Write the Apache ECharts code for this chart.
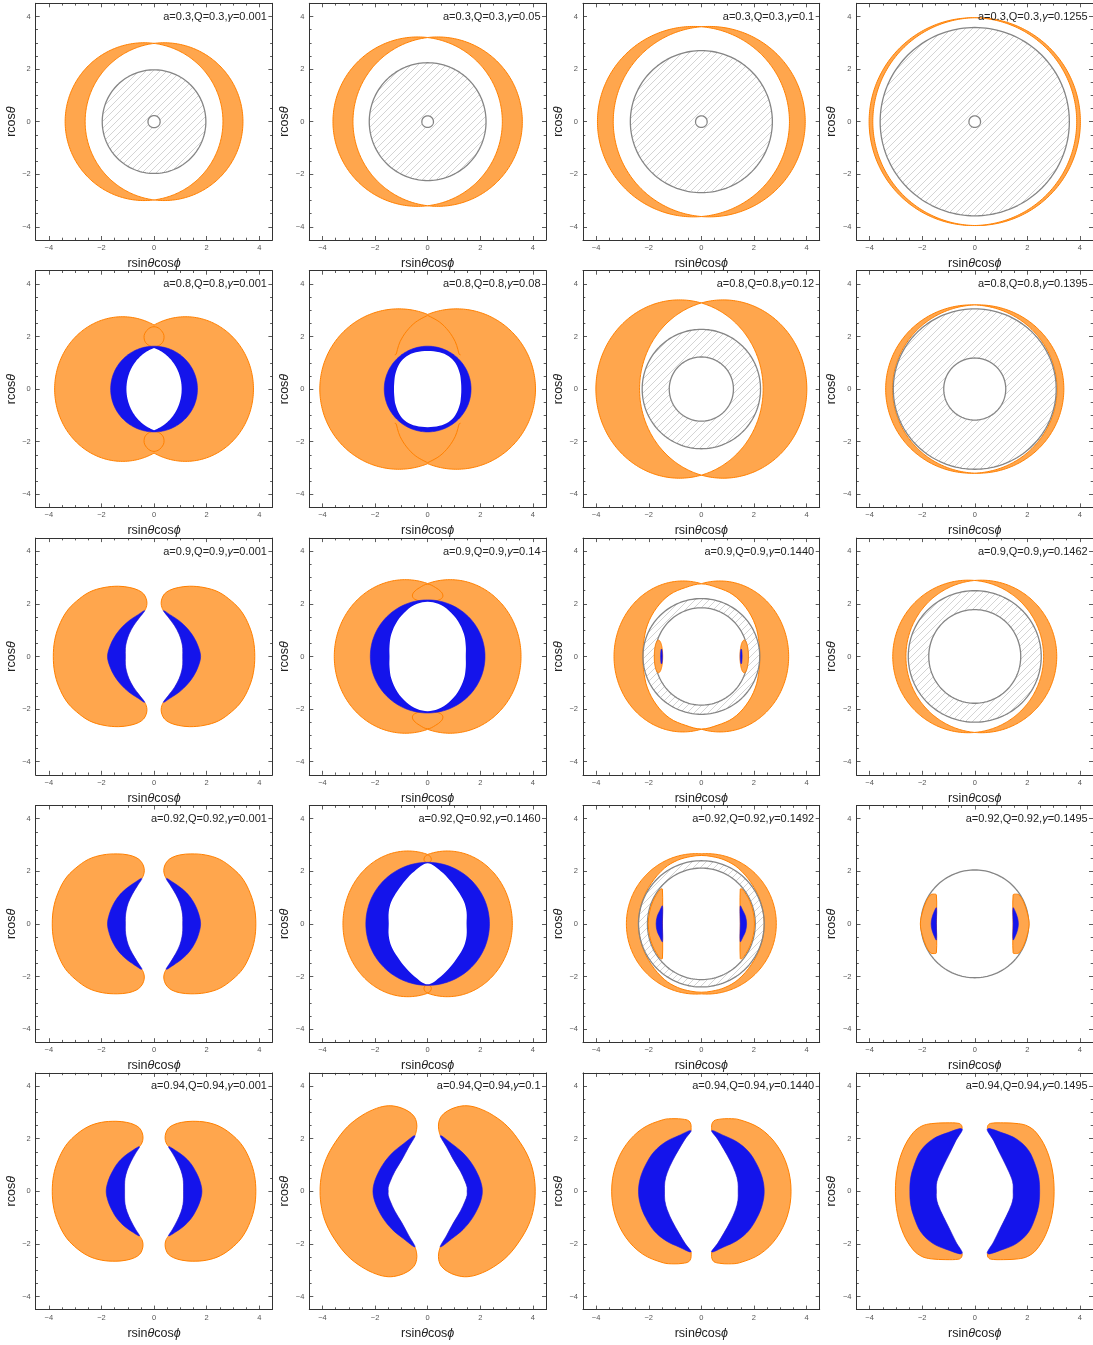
<!DOCTYPE html>
<html><head><meta charset="utf-8">
<script src="https://cdn.jsdelivr.net/npm/echarts@6/dist/echarts.min.js"></script>
<style>html,body{margin:0;padding:0;background:#fff}#c{width:1093px;height:1345px}</style>
</head><body><div id="c"></div>
<script>
// ================= DATA (data units) =================
const titles = [
 'a=0.3,Q=0.3,{g|γ}=0.001','a=0.3,Q=0.3,{g|γ}=0.05','a=0.3,Q=0.3,{g|γ}=0.1','a=0.3,Q=0.3,{g|γ}=0.1255',
 'a=0.8,Q=0.8,{g|γ}=0.001','a=0.8,Q=0.8,{g|γ}=0.08','a=0.8,Q=0.8,{g|γ}=0.12','a=0.8,Q=0.8,{g|γ}=0.1395',
 'a=0.9,Q=0.9,{g|γ}=0.001','a=0.9,Q=0.9,{g|γ}=0.14','a=0.9,Q=0.9,{g|γ}=0.1440','a=0.9,Q=0.9,{g|γ}=0.1462',
 'a=0.92,Q=0.92,{g|γ}=0.001','a=0.92,Q=0.92,{g|γ}=0.1460','a=0.92,Q=0.92,{g|γ}=0.1492','a=0.92,Q=0.92,{g|γ}=0.1495',
 'a=0.94,Q=0.94,{g|γ}=0.001','a=0.94,Q=0.94,{g|γ}=0.1','a=0.94,Q=0.94,{g|γ}=0.1440','a=0.94,Q=0.94,{g|γ}=0.1495'
];
const majorTicks = [-4,-2,0,2,4];
const minorTicks = [-3.5,-3,-2.5,-1.5,-1,-0.5,0.5,1,1.5,2.5,3,3.5];
const axisMin = -4.5, axisMax = 4.5;

// ergosurface pairs: [offset, rx, ry]; horizons: [rx, ry]
const r1c1_ergo = [0.38, 3.0, 3.0];   const r1c1_hor = [1.97, 1.97]; const r1c1_core = [0.23, 0.23];
const r1c2_ergo = [0.38, 3.22, 3.22]; const r1c2_hor = [2.22, 2.24]; const r1c2_core = [0.22, 0.22];
const r1c3_ergo = [0.3, 3.65, 3.62];  const r1c3_hor = [2.7, 2.7];   const r1c3_core = [0.22, 0.22];
const r1c4_ergo = [0.07, 3.95, 3.95]; const r1c4_hor = [3.6, 3.58];  const r1c4_core = [0.22, 0.22];

const r2c1_ergo = [1.2, 2.58, 2.75];
const r2c1_petal = [[0,2.37],[0.2,2.3],[0.35,2.12],[0.38,1.95],[0.33,1.78],[0.18,1.65],[0,1.6]];
const r2c1_blue = [1.65, 1.63];
const r2c1_hole = [0.5, 1.55, 1.65];

const r2c2_ergo = [1.1, 3.0, 3.05];
const r2c2_arc = [[0,2.8],[0.45,2.55],[0.8,2.2],[1.05,1.8],[1.15,1.5],[1.2,1.32],[1.25,1.3]];
const r2c2_blue = [1.65, 1.63];
const r2c2_hole = [[0,1.45],[0.45,1.4],[0.8,1.25],[1.05,1.0],[1.22,0.6],[1.27,0.25],[1.28,0]];

const r2c3_ergo = [0.83, 3.18, 3.39]; const r2c3_hor = [2.25, 2.27]; const r2c3_core = [1.22, 1.22];
const r2c4_ergo = [0.13, 3.26, 3.2];  const r2c4_hor = [3.1, 3.05];  const r2c4_core = [1.18, 1.18];

const r3c1_out = [[3.83,0],[3.78,0.6],[3.62,1.15],[3.33,1.7],[2.95,2.1],[2.45,2.45],[1.9,2.62],[1.35,2.67],[0.92,2.62],[0.6,2.52],[0.4,2.38],[0.3,2.2],[0.27,2.02],[0.3,1.86],[0.35,1.75]];
const r3c1_bOut = [[0.35,1.75],[0.62,1.58],[0.95,1.36],[1.25,1.08],[1.5,0.75],[1.68,0.38],[1.77,0]];
const r3c1_bIn = [[0.35,1.75],[0.55,1.48],[0.78,1.17],[0.95,0.85],[1.05,0.55],[1.09,0.3],[1.09,0]];

const r3c2_ergo = [0.85, 2.7, 2.92];
const r3c2_petal = [[0,2.75],[0.3,2.62],[0.52,2.45],[0.58,2.3],[0.5,2.18],[0.25,2.1],[0,2.08]];
const r3c2_blue = [2.18, 2.15];
const r3c2_hole = [[0,2.08],[0.4,2.0],[0.8,1.75],[1.15,1.35],[1.38,0.85],[1.45,0.4],[1.45,0]];

const r3c3_ergo = [0.7, 2.62, 2.87];
const r3c3_lens = [[0,2.76],[0.6,2.62],[1.2,2.35],[1.7,1.85],[2.05,1.2],[2.2,0.5],[2.22,0]];
const r3c3_hor = [2.22, 2.2]; const r3c3_core = [1.77, 1.85];
const r3c3_lobe = [1.63, 0.16, 0.62]; const r3c3_sliver = [1.515, 0.035, 0.28];

const r3c4_ergo = [0.25, 2.87, 2.9]; const r3c4_hor = [2.53, 2.5]; const r3c4_core = [1.75, 1.78];

const r4c1_out = [[3.87,0],[3.82,0.6],[3.66,1.15],[3.38,1.7],[3.0,2.1],[2.5,2.45],[1.95,2.62],[1.4,2.66],[0.98,2.62],[0.68,2.52],[0.5,2.38],[0.4,2.2],[0.37,2.02],[0.4,1.86],[0.46,1.73]];
const r4c1_bOut = [[0.46,1.73],[0.75,1.56],[1.07,1.33],[1.35,1.05],[1.56,0.72],[1.7,0.37],[1.77,0]];
const r4c1_bIn = [[0.46,1.73],[0.63,1.45],[0.83,1.12],[0.98,0.8],[1.06,0.5],[1.09,0.25],[1.09,0]];

const r4c2_ergo = [0.75, 2.47, 2.77];
const r4c2_petal = [[0,2.62],[0.1,2.56],[0.14,2.45],[0.1,2.36],[0,2.32]];
const r4c2_blue = [2.35, 2.34];
const r4c2_hole = [[0,2.3],[0.5,2.0],[0.85,1.65],[1.15,1.25],[1.38,0.85],[1.48,0.45],[1.48,0]];

const r4c3_ergo = [0.2, 2.65, 2.67];
const r4c3_lens = [[0,2.6],[0.4,2.56],[0.9,2.42],[1.4,2.12],[1.9,1.55],[2.25,0.85],[2.39,0]];
const r4c3_hor = [2.39, 2.4]; const r4c3_core = [2.05, 2.12];
const r4c3_lobe = [[1.48,0],[1.48,1.32],[1.55,1.32],[1.7,1.12],[1.85,0.84],[1.97,0.45],[2.02,0]];
const r4c3_blue = [[1.48,0],[1.48,0.68],[1.58,0.5],[1.68,0.28],[1.72,0]];

const r4c4_hor = [2.05, 2.05];
const r4c4_lobe = [[1.46,0],[1.46,1.1],[1.55,1.13],[1.69,1.1],[1.85,0.85],[1.99,0.45],[2.07,0]];
const r4c4_blue = [[1.46,0],[1.46,0.61],[1.55,0.45],[1.63,0.22],[1.66,0]];

const r5c1_out = [[3.87,0],[3.82,0.6],[3.66,1.15],[3.38,1.7],[3.02,2.1],[2.52,2.45],[2.0,2.62],[1.45,2.66],[1.05,2.62],[0.75,2.53],[0.55,2.4],[0.45,2.22],[0.42,2.02],[0.46,1.84],[0.55,1.7]];
const r5c1_bOut = [[0.55,1.7],[0.82,1.55],[1.13,1.33],[1.4,1.05],[1.6,0.72],[1.75,0.37],[1.82,0]];
const r5c1_bIn = [[0.55,1.7],[0.7,1.45],[0.88,1.12],[1.02,0.8],[1.1,0.5],[1.12,0.25],[1.12,0]];

const r5c2_out = [[4.09,0],[4.03,0.65],[3.85,1.25],[3.52,1.85],[3.05,2.45],[2.5,2.88],[1.95,3.15],[1.5,3.25],[1.1,3.2],[0.75,3.05],[0.52,2.85],[0.42,2.6],[0.42,2.35],[0.48,2.12]];
const r5c2_bOut = [[0.48,2.12],[0.9,1.82],[1.35,1.45],[1.7,1.02],[1.95,0.55],[2.05,0.25],[2.08,0]];
const r5c2_bIn = [[0.48,2.12],[0.72,1.68],[0.98,1.2],[1.25,0.75],[1.42,0.38],[1.5,0.15],[1.5,0]];

const r5c3_out = [[3.41,0],[3.27,0.94],[2.86,1.77],[2.23,2.39],[1.45,2.72],[1.04,2.76],[0.7,2.74],[0.48,2.68],[0.4,2.55],[0.39,2.42],[0.39,2.31]];
const r5c3_bOut = [[0.39,2.31],[0.85,2.12],[1.35,1.88],[1.8,1.5],[2.12,1.0],[2.32,0.5],[2.39,0]];
const r5c3_bIn = [[0.39,2.31],[0.62,1.98],[0.85,1.6],[1.1,1.15],[1.3,0.7],[1.39,0.35],[1.4,0]];

const r5c4_out = [[3.02,0],[2.94,0.88],[2.7,1.65],[2.34,2.23],[2.01,2.48],[1.66,2.57],[1.1,2.6],[0.6,2.58],[0.5,2.5],[0.48,2.37]];
const r5c4_bOut = [[0.48,2.37],[1.05,2.22],[1.6,1.98],[2.05,1.55],[2.31,0.98],[2.44,0.5],[2.47,0]];
const r5c4_bIn = [[0.48,2.37],[0.72,1.92],[0.95,1.45],[1.2,0.95],[1.4,0.5],[1.46,0.25],[1.46,0]];

// ================= STYLES =================
const ORANGE = '#FFA64D', ORANGE_LINE = '#FF8000', BLUE = '#1414EB', GREY = '#858585', FRAME = '#333';
const FONT = '"Liberation Sans", Arial, sans-serif';
const hc = document.createElement('canvas'); hc.width = hc.height = 7;
(function(){ const k = hc.getContext('2d'); k.strokeStyle = '#c2c2c2'; k.lineWidth = 0.7; k.beginPath();
  k.moveTo(0,7); k.lineTo(7,0); k.moveTo(-1,1); k.lineTo(1,-1); k.moveTo(6,8); k.lineTo(8,6); k.stroke(); })();
const HATCH = {image: hc, repeat: 'repeat'};
const STY = {
  org:  {fill: ORANGE, stroke: ORANGE_LINE, lineWidth: 1},
  orgF: {fill: ORANGE, stroke: null},
  wht:  {fill: '#fff', stroke: ORANGE_LINE, lineWidth: 1},
  whtN: {fill: '#fff', stroke: null},
  blu:  {fill: BLUE, stroke: BLUE, lineWidth: 0.6},
  hat:  {fill: HATCH, stroke: GREY, lineWidth: 1.3},
  whtG: {fill: '#fff', stroke: GREY, lineWidth: 1.3},
  lineO:{fill: null, stroke: ORANGE_LINE, lineWidth: 1}
};

function crescent(out, bOut, bIn) {
  return [['H','orgF', out.concat(bIn.slice(1))],
          ['H','blu', bOut.slice().reverse().concat(bIn.slice(1))],
          ['HL','lineO', out]];
}
const panels = [
 [['U','org',r1c1_ergo],['L','wht',r1c1_ergo],['C','hat',r1c1_hor],['C','whtG',r1c1_core]],
 [['U','org',r1c2_ergo],['L','wht',r1c2_ergo],['C','hat',r1c2_hor],['C','whtG',r1c2_core]],
 [['U','org',r1c3_ergo],['L','wht',r1c3_ergo],['C','hat',r1c3_hor],['C','whtG',r1c3_core]],
 [['U','org',r1c4_ergo],['L','wht',r1c4_ergo],['C','hat',r1c4_hor],['C','whtG',r1c4_core]],
 [['U','org',r2c1_ergo],['P','lineO',r2c1_petal],['C','blu',r2c1_blue],['L','whtN',r2c1_hole]],
 [['U','org',r2c2_ergo],['A','lineO',r2c2_arc],['C','blu',r2c2_blue],['Q','whtN',r2c2_hole]],
 [['U','org',r2c3_ergo],['L','wht',r2c3_ergo],['C','hat',r2c3_hor],['C','whtG',r2c3_core]],
 [['U','org',r2c4_ergo],['L','wht',r2c4_ergo],['C','hat',r2c4_hor],['C','whtG',r2c4_core]],
 crescent(r3c1_out, r3c1_bOut, r3c1_bIn),
 [['U','org',r3c2_ergo],['P','lineO',r3c2_petal],['C','blu',r3c2_blue],['Q','whtN',r3c2_hole]],
 [['U','org',r3c3_ergo],['Q','wht',r3c3_lens],['C','hat',r3c3_hor],['C','whtG',r3c3_core],['E2','org',r3c3_lobe],['E2','blu',r3c3_sliver]],
 [['U','org',r3c4_ergo],['L','wht',r3c4_ergo],['C','hat',r3c4_hor],['C','whtG',r3c4_core]],
 crescent(r4c1_out, r4c1_bOut, r4c1_bIn),
 [['U','org',r4c2_ergo],['P','lineO',r4c2_petal],['C','blu',r4c2_blue],['Q','whtN',r4c2_hole]],
 [['U','org',r4c3_ergo],['Q','wht',r4c3_lens],['C','hat',r4c3_hor],['C','whtG',r4c3_core],['H','org',r4c3_lobe],['H','blu',r4c3_blue]],
 [['C','whtG',r4c4_hor],['H','org',r4c4_lobe],['H','blu',r4c4_blue]],
 crescent(r5c1_out, r5c1_bOut, r5c1_bIn),
 crescent(r5c2_out, r5c2_bOut, r5c2_bIn),
 crescent(r5c3_out, r5c3_bOut, r5c3_bIn),
 crescent(r5c4_out, r5c4_bOut, r5c4_bIn)
];

// ================= GEOMETRY HELPERS =================
const fx = p => [-p[0], p[1]], fy = p => [p[0], -p[1]], fxy = p => [-p[0], -p[1]];
function ell(cx, rx, ry) { const o = []; for (let k = 0; k < 160; k++) { const t = 2*Math.PI*k/160; o.push([cx + rx*Math.cos(t), ry*Math.sin(t)]); } return o; }
function uQuad(c, rx, ry) { const t0 = Math.acos(-c/rx), o = []; for (let k = 0; k <= 80; k++) { const t = t0*(1-k/80); o.push([c + rx*Math.cos(t), ry*Math.sin(t)]); } return o; }
function lQuad(c, rx, ry) { const t0 = Math.acos(c/rx), o = []; for (let k = 0; k <= 80; k++) { const t = t0*(1-k/80); o.push([-c + rx*Math.cos(t), ry*Math.sin(t)]); } return o; }
function mirrorQuad(q) { const r = q.slice().reverse(); return q.concat(r.map(fy), q.map(fxy), r.map(fx)); }
function half(h) { return h.concat(h.slice().reverse().map(fy)); }
function dedupe(pts, closed) {
  const o = [];
  pts.forEach(p => { const l = o[o.length-1]; if (!l || Math.abs(l[0]-p[0]) > 1e-6 || Math.abs(l[1]-p[1]) > 1e-6) o.push(p); });
  if (closed && o.length > 1) { const a = o[0], b = o[o.length-1]; if (Math.abs(a[0]-b[0]) < 1e-6 && Math.abs(a[1]-b[1]) < 1e-6) o.pop(); }
  return o;
}
function shapes(kind, d) {
  switch (kind) {
    case 'C': return {closed: true, smooth: 0, list: [ell(0, d[0], d[1])]};
    case 'E2': return {closed: true, smooth: 0, list: [ell(d[0], d[1], d[2]), ell(-d[0], d[1], d[2])]};
    case 'U': return {closed: true, smooth: 0, list: [mirrorQuad(uQuad(d[0], d[1], d[2]))]};
    case 'L': return {closed: true, smooth: 0, list: [mirrorQuad(lQuad(d[0], d[1], d[2]))]};
    case 'Q': return {closed: true, smooth: 0.35, list: [mirrorQuad(d)]};
    case 'H': { const h = half(d); return {closed: true, smooth: 0.35, list: [h, h.map(fx)]}; }
    case 'HL': { const l = d.slice().reverse().map(fy).concat(d.slice(1)); return {closed: false, smooth: 0.35, list: [l, l.map(fx)]}; }
    case 'P': { const l = d.concat(d.slice().reverse().map(fx)); return {closed: true, smooth: 0.35, list: [l, l.map(fy)]}; }
    case 'A': return {closed: false, smooth: 0.35, list: [d, d.map(fx), d.map(fy), d.map(fxy)]};
  }
}

// ================= CHART =================
const W = 236.7, colX = [35.7, 309.3, 583, 856.5], rowY = [3.3, 270.7, 538.1, 805.5, 1072.9];
const grids = [], xAxes = [], yAxes = [], series = [], titleList = [];
const fmt = v => (v < 0 ? '\u2212' : '') + Math.abs(v);
const tickLine = {color: FRAME, width: 0.8};
function axisSet(g, dim) {
  const isX = dim === 'x';
  const base = {gridIndex: g, type: 'value', min: axisMin, max: axisMax, splitLine: {show: false},
    axisLabel: {show: false}, axisLine: {show: false, onZero: false}};
  const p1 = isX ? 'bottom' : 'left', p2 = isX ? 'top' : 'right';
  const main = Object.assign({}, base, {position: p1,
    axisLine: {show: true, onZero: false, lineStyle: {color: FRAME, width: 1}},
    axisTick: {show: true, inside: true, length: 4, customValues: majorTicks, lineStyle: tickLine},
    axisLabel: {show: true, customValues: majorTicks, formatter: fmt, fontSize: 7.5, color: '#555', fontFamily: FONT, margin: isX ? 4 : 5},
    name: isX ? 'rsin{i|θ}cos{i|ϕ}' : 'rcos{i|θ}', nameLocation: 'middle', nameGap: isX ? 17 : 18,
    nameTextStyle: {fontSize: 12.5, color: '#222', fontFamily: FONT, rich: {i: {fontStyle: 'italic', fontSize: 12.5, fontFamily: FONT, color: '#222'}}}
  });
  const mainMinor = Object.assign({}, base, {position: p1,
    axisTick: {show: true, inside: true, length: 2.3, customValues: minorTicks, lineStyle: tickLine}});
  const opp = Object.assign({}, base, {position: p2,
    axisLine: {show: true, onZero: false, lineStyle: {color: FRAME, width: 1}},
    axisTick: {show: true, inside: true, length: 4, customValues: majorTicks, lineStyle: tickLine}});
  const oppMinor = Object.assign({}, base, {position: p2,
    axisTick: {show: true, inside: true, length: 2.3, customValues: minorTicks, lineStyle: tickLine}});
  return [main, mainMinor, opp, oppMinor];
}
for (let g = 0; g < 20; g++) {
  const r = Math.floor(g / 4), c = g % 4;
  grids.push({left: colX[c], top: rowY[r], width: W, height: W, show: false});
  xAxes.push(...axisSet(g, 'x'));
  yAxes.push(...axisSet(g, 'y'));
  titleList.push({text: titles[g], right: 1093 - (colX[c] + W) + 5.5, top: rowY[r] + 8, padding: 0,
    textStyle: {fontSize: 11, fontWeight: 'normal', color: '#222', fontFamily: FONT,
      rich: {g: {fontStyle: 'italic', fontSize: 11, color: '#222', fontFamily: FONT}}}});
  series.push({type: 'custom', coordinateSystem: 'cartesian2d', xAxisIndex: 4*g, yAxisIndex: 4*g,
    clip: true, silent: true, animation: false, data: [[0, 0]],
    renderItem: (function (gi) { return function (params, api) {
      const children = [];
      panels[gi].forEach(function (layer, li) {
        const st = STY[layer[1]], sh = shapes(layer[0], layer[2]);
        sh.list.forEach(function (pts) {
          const P = dedupe(pts, sh.closed).map(function (p) { return api.coord(p); });
          const style = Object.assign({lineJoin: 'round'}, st);
          if (!sh.closed) style.fill = null;
          children.push({type: sh.closed ? 'polygon' : 'polyline', shape: {points: P, smooth: sh.smooth}, style: style, z2: li});
        });
      });
      return {type: 'group', children: children};
    }; })(g)
  });
}
const chart = echarts.init(document.getElementById('c'), null, {renderer: 'canvas'});
chart.setOption({animation: false, backgroundColor: '#fff', title: titleList, grid: grids, xAxis: xAxes, yAxis: yAxes, series: series});
</script></body></html>
